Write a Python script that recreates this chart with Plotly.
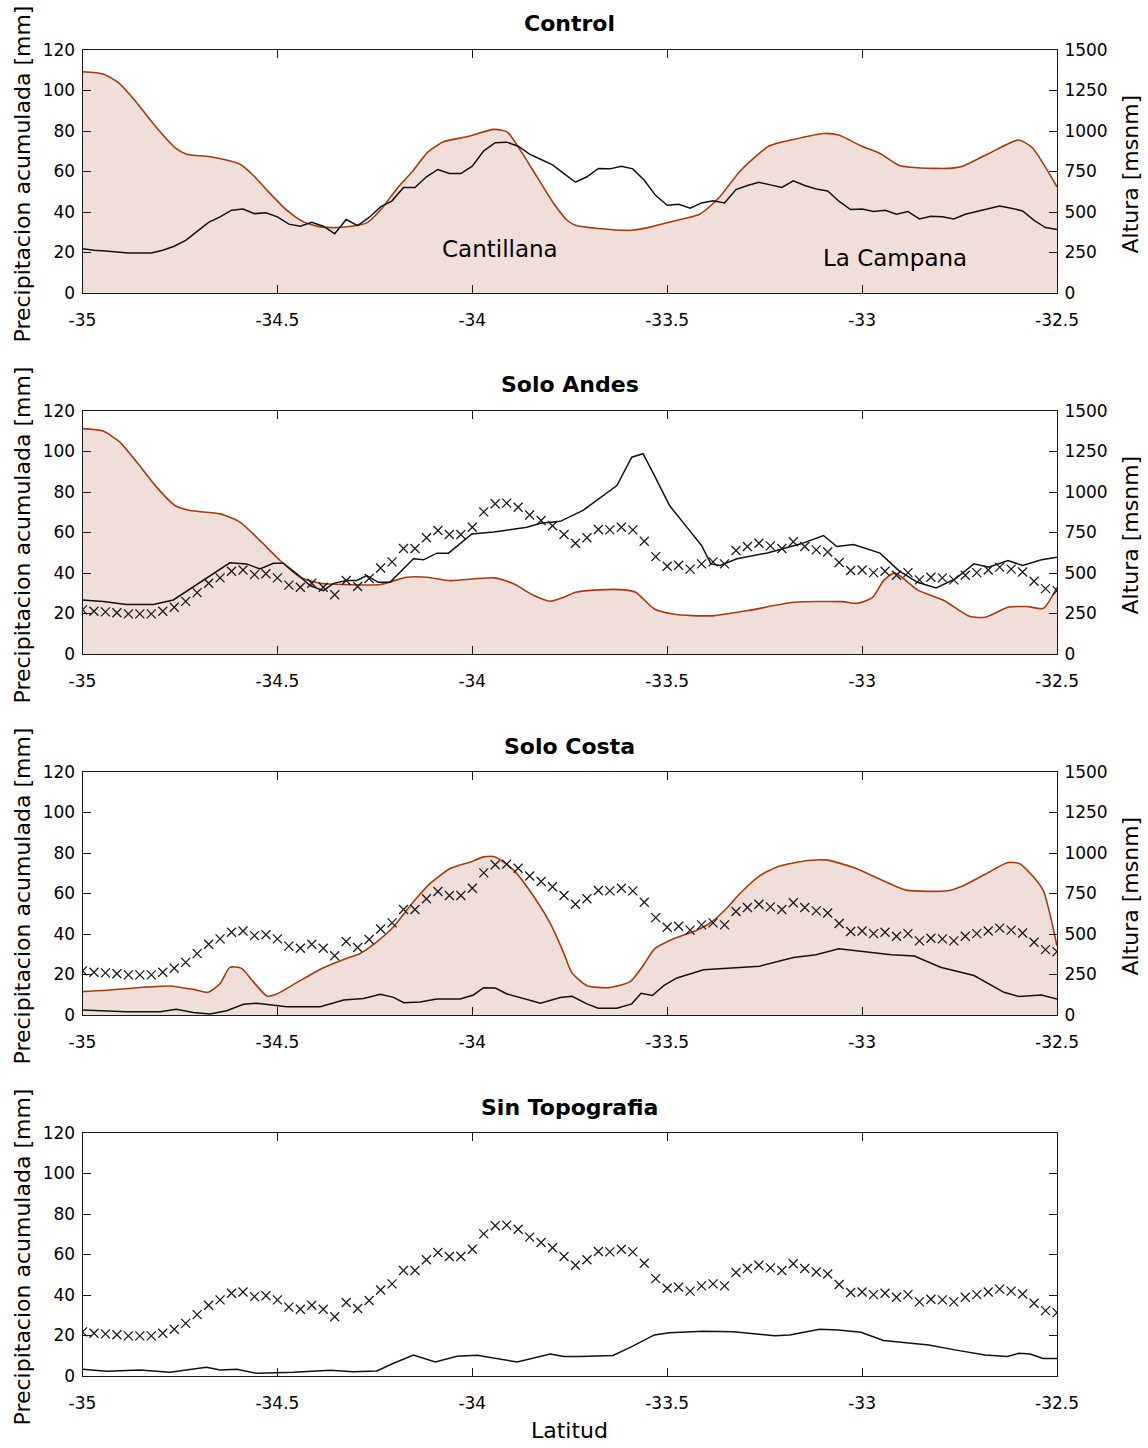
import numpy as np
import plotly.graph_objects as go

# ---------------------------------------------------------------- data
# Control run accumulated precipitation [mm] on the regular latitude grid
LAT_GRID = np.linspace(-35.0, -32.5, 86)
PREC_CONTROL = [
    21.8, 21.1, 20.8, 20.4, 19.8, 19.8, 19.8, 21.1, 23.1, 26.0,
    30.3, 34.9, 37.6, 40.9, 41.5, 39.2, 39.6, 37.6, 34.0, 33.0,
    34.9, 33.0, 29.3, 36.3, 33.3, 37.3, 42.5, 45.5, 52.1, 52.1,
    57.4, 61.0, 59.0, 59.0, 62.6, 70.2, 74.2, 74.5, 72.5, 68.6,
    65.9, 63.3, 59.0, 54.7, 57.4, 61.5, 61.3, 62.6, 61.3, 55.7,
    48.1, 43.3, 43.8, 41.9, 44.5, 45.5, 44.5, 51.1, 53.1, 54.7,
    53.4, 52.1, 55.4, 53.1, 51.4, 50.4, 45.2, 41.2, 41.5, 40.2,
    40.9, 38.9, 40.2, 36.6, 37.9, 37.6, 36.6, 38.9, 40.2, 41.5,
    42.9, 41.9, 40.5, 35.9, 32.3, 31.3,
]

# Topography profiles [msnm]
TOPO_CONTROL_LAT = [
    -35.000, -34.947, -34.908, -34.870, -34.836, -34.801, -34.763, -34.733,
    -34.673, -34.596, -34.562, -34.527, -34.476, -34.433, -34.390, -34.348,
    -34.305, -34.271, -34.236, -34.193, -34.151, -34.116, -34.074, -34.014,
    -33.945, -33.911, -33.877, -33.834, -33.791, -33.757, -33.735, -33.677,
    -33.591, -33.542, -33.485, -33.417, -33.369, -33.311, -33.239, -33.176,
    -33.099, -33.060, -33.002, -32.954, -32.906, -32.858, -32.781, -32.742,
    -32.675, -32.599, -32.564, -32.500,
]
TOPO_CONTROL = [
    1366, 1352, 1298, 1201, 1098, 995, 898, 857,
    841, 795, 727, 635, 511, 439, 408, 404,
    414, 433, 511, 645, 758, 865, 933, 964,
    1010, 995, 882, 717, 552, 449, 418, 398,
    387, 408, 443, 486, 583, 758, 907, 948,
    985, 975, 907, 861, 789, 773, 769, 783,
    861, 944, 898, 655,
]

TOPO_ANDES_LAT = [
    -35.000, -34.947, -34.904, -34.861, -34.810, -34.763, -34.724, -34.647,
    -34.596, -34.545, -34.493, -34.442, -34.390, -34.330, -34.236, -34.168,
    -34.116, -34.057, -33.945, -33.894, -33.842, -33.800, -33.765, -33.735,
    -33.677, -33.610, -33.581, -33.533, -33.485, -33.436, -33.378, -33.292,
    -33.176, -33.051, -33.012, -32.973, -32.945, -32.916, -32.858, -32.790,
    -32.723, -32.684, -32.626, -32.578, -32.535, -32.500,
]
TOPO_ANDES = [
    1391, 1376, 1308, 1185, 1030, 917, 886, 865,
    814, 701, 577, 474, 437, 429, 429, 474,
    474, 453, 470, 433, 361, 326, 350, 381,
    396, 396, 381, 278, 247, 237, 237, 268,
    319, 323, 313, 350, 453, 501, 396, 330,
    231, 227, 288, 293, 282, 412,
]

TOPO_COSTA_LAT = [
    -35.000, -34.930, -34.844, -34.776, -34.716, -34.677, -34.647, -34.622,
    -34.592, -34.562, -34.527, -34.502, -34.442, -34.382, -34.330, -34.288,
    -34.245, -34.202, -34.151, -34.108, -34.057, -34.005, -33.971, -33.941,
    -33.894, -33.842, -33.800, -33.765, -33.745, -33.706, -33.649, -33.595,
    -33.562, -33.533, -33.485, -33.427, -33.388, -33.350, -33.311, -33.263,
    -33.215, -33.137, -33.089, -33.022, -32.954, -32.887, -32.781, -32.742,
    -32.684, -32.626, -32.597, -32.563, -32.535, -32.500,
]
TOPO_COSTA = [
    144, 154, 171, 179, 158, 140, 195, 294,
    288, 206, 117, 129, 212, 292, 343, 380,
    452, 545, 699, 812, 904, 945, 976, 976,
    894, 730, 565, 380, 263, 181, 169, 206,
    304, 407, 469, 520, 571, 653, 756, 859,
    917, 954, 956, 910, 838, 771, 767, 797,
    869, 941, 935, 859, 767, 427,
]

# Accumulated precipitation of the sensitivity runs [mm]
PREC_ANDES_LAT = [
    -35.000, -34.947, -34.887, -34.818, -34.767, -34.716, -34.673, -34.622,
    -34.579, -34.545, -34.510, -34.485, -34.450, -34.416, -34.382, -34.356,
    -34.322, -34.296, -34.271, -34.241, -34.211, -34.176, -34.151, -34.125,
    -34.091, -34.061, -34.031, -34.001, -33.945, -33.902, -33.860, -33.825,
    -33.774, -33.716, -33.629, -33.591, -33.562, -33.533, -33.494, -33.446,
    -33.412, -33.388, -33.364, -33.321, -33.243, -33.157, -33.099, -33.065,
    -33.022, -32.954, -32.906, -32.858, -32.810, -32.761, -32.713, -32.675,
    -32.626, -32.588, -32.540, -32.500,
]
PREC_ANDES = [
    26.7, 25.9, 24.4, 24.4, 26.7, 33.0, 38.7, 45.0,
    44.5, 42.0, 44.8, 44.8, 39.6, 33.8, 31.3, 34.9,
    36.3, 36.3, 38.7, 35.4, 35.4, 42.0, 47.0, 46.5,
    49.8, 49.8, 54.4, 59.3, 60.2, 61.3, 62.6, 64.6,
    65.5, 70.9, 83.2, 97.2, 98.9, 88.2, 73.3, 61.8,
    53.6, 44.5, 43.7, 47.0, 49.9, 54.4, 58.5, 53.1,
    54.1, 49.8, 41.2, 35.4, 32.6, 37.1, 44.5, 42.8,
    46.2, 43.7, 46.5, 47.8,
]

PREC_COSTA_LAT = [
    -35.000, -34.887, -34.801, -34.759, -34.716, -34.673, -34.630, -34.587,
    -34.553, -34.519, -34.476, -34.390, -34.330, -34.279, -34.236, -34.202,
    -34.176, -34.134, -34.091, -34.031, -33.997, -33.971, -33.941, -33.911,
    -33.877, -33.825, -33.774, -33.744, -33.706, -33.677, -33.629, -33.591,
    -33.567, -33.538, -33.509, -33.475, -33.407, -33.340, -33.263, -33.176,
    -33.118, -33.060, -33.002, -32.925, -32.866, -32.799, -32.713, -32.636,
    -32.597, -32.540, -32.500,
]
PREC_COSTA = [
    2.5, 1.6, 1.6, 2.8, 1.2, 0.5, 2.1, 5.3,
    5.8, 4.9, 4.1, 4.1, 7.4, 8.1, 10.2, 8.7,
    6.1, 6.4, 7.9, 7.9, 9.9, 13.5, 13.3, 10.4,
    8.7, 5.8, 8.6, 9.2, 5.5, 3.3, 3.3, 5.5,
    10.7, 9.6, 14.5, 18.3, 22.3, 23.1, 24.1, 28.4,
    29.8, 32.7, 31.4, 29.8, 29.1, 23.6, 19.5, 11.2,
    9.1, 9.9, 7.9,
]

PREC_SINTOPO_LAT = [
    -35.000, -34.938, -34.853, -34.776, -34.682, -34.647, -34.604, -34.553,
    -34.459, -34.365, -34.305, -34.245, -34.202, -34.151, -34.095, -34.039,
    -33.988, -33.945, -33.885, -33.800, -33.765, -33.723, -33.639, -33.591,
    -33.533, -33.494, -33.408, -33.330, -33.224, -33.186, -33.109, -33.061,
    -33.003, -32.945, -32.829, -32.762, -32.685, -32.627, -32.598, -32.569,
    -32.536, -32.500,
]
PREC_SINTOPO = [
    3.3, 2.3, 3.0, 1.8, 4.3, 3.0, 3.3, 1.3,
    1.8, 2.8, 2.1, 2.5, 6.3, 10.4, 6.9, 9.7,
    10.2, 8.9, 6.9, 10.9, 9.6, 9.6, 10.1, 14.5,
    20.3, 21.4, 22.1, 21.9, 19.9, 20.3, 23.1, 22.7,
    21.6, 17.5, 15.3, 12.9, 10.4, 9.6, 11.2, 10.9,
    8.7, 8.7,
]

X_TICKS = [-35, -34.5, -34, -33.5, -33, -32.5]
X_TICK_TEXT = ["-35", "-34.5", "-34", "-33.5", "-33", "-32.5"]
PREC_TICKS = [0, 20, 40, 60, 80, 100, 120]
ALT_TICKS = [0, 250, 500, 750, 1000, 1250, 1500]

TITLES = ["Control", "Solo Andes", "Solo Costa", "Sin Topografia"]

# ---------------------------------------------------------------- layout
W, H = 1148, 1448
LEFT, RIGHT = 82.5, 1057.0
TOPS = [50, 411, 772, 1133]
PH = 243

FONT = "DejaVu Sans"
TOPO_LINE = "rgb(168,58,12)"
TOPO_FILL = "rgb(240,223,216)"
INK = "#111111"


def px_x(px):
    return px / W


def px_y(py):
    return 1 - py / H


panels = [
    dict(topo=(TOPO_CONTROL_LAT, TOPO_CONTROL), line=(list(LAT_GRID), PREC_CONTROL), marks=False),
    dict(topo=(TOPO_ANDES_LAT, TOPO_ANDES), line=(PREC_ANDES_LAT, PREC_ANDES), marks=True),
    dict(topo=(TOPO_COSTA_LAT, TOPO_COSTA), line=(PREC_COSTA_LAT, PREC_COSTA), marks=True),
    dict(topo=None, line=(PREC_SINTOPO_LAT, PREC_SINTOPO), marks=True),
]

fig = go.Figure()
layout = {}
annotations = []

axis_common = dict(
    showline=True, linecolor="#1a1a1a", linewidth=1,
    ticks="inside", ticklen=8, tickwidth=1, tickcolor="#1a1a1a",
    showgrid=False, zeroline=False, automargin=False,
    tickfont=dict(family=FONT, size=17, color="black"),
)

ycount = 0
for i, p in enumerate(panels):
    k = i + 1
    xname = "x" if k == 1 else f"x{k}"
    top = TOPS[i]
    dom_y = [px_y(top + PH), px_y(top)]

    if p["topo"] is not None:
        # base axis: altitude on the right; precipitation overlays it on the left
        ycount += 1
        alt_id = ycount
        ycount += 1
        prec_id = ycount
        alt_name = "y" if alt_id == 1 else f"y{alt_id}"
        prec_name = f"y{prec_id}"
        layout[f"yaxis{'' if alt_id == 1 else alt_id}"] = dict(
            axis_common, domain=dom_y, anchor=xname, side="right",
            range=[0, 1500], tickvals=ALT_TICKS, ticklabelstandoff=3,
        )
        layout[f"yaxis{prec_id}"] = dict(
            axis_common, overlaying=alt_name, anchor=xname, side="left",
            range=[0, 120], tickvals=PREC_TICKS, ticklabelstandoff=3,
        )
        tlat, tval = p["topo"]
        fig.add_trace(go.Scatter(
            x=tlat, y=tval, xaxis=xname, yaxis=alt_name, mode="lines",
            line=dict(color=TOPO_LINE, width=1.6, shape="spline", smoothing=0.6),
            fill="tozeroy", fillcolor=TOPO_FILL, showlegend=False, hoverinfo="skip",
        ))
        base_y = alt_name
    else:
        ycount += 1
        prec_id = ycount
        prec_name = f"y{prec_id}"
        layout[f"yaxis{prec_id}"] = dict(
            axis_common, domain=dom_y, anchor=xname, side="left", mirror="ticks",
            range=[0, 120], tickvals=PREC_TICKS, ticklabelstandoff=3,
        )
        base_y = prec_name

    layout[f"xaxis{'' if k == 1 else k}"] = dict(
        axis_common, domain=[px_x(LEFT), px_x(RIGHT)], anchor=base_y,
        range=[-35, -32.5], tickvals=X_TICKS, ticktext=X_TICK_TEXT,
        mirror="ticks", ticklabelstandoff=12,
    )

    llat, lval = p["line"]
    fig.add_trace(go.Scatter(
        x=llat, y=lval, xaxis=xname, yaxis=prec_name, mode="lines",
        line=dict(color=INK, width=1.5), showlegend=False,
    ))
    if p["marks"]:
        fig.add_trace(go.Scatter(
            x=list(LAT_GRID), y=PREC_CONTROL, xaxis=xname, yaxis=prec_name,
            mode="markers", showlegend=False,
            marker=dict(symbol="x-thin-open", size=9, color="#1a1a1a",
                        line=dict(width=1.3, color="#1a1a1a")),
        ))

    # panel title
    annotations.append(dict(
        text=f"<b>{TITLES[i]}</b>", x=px_x((LEFT + RIGHT) / 2), y=px_y(top - 26),
        xref="paper", yref="paper", showarrow=False, xanchor="center", yanchor="middle",
        font=dict(family=FONT, size=22, color="black"),
    ))
    # left axis title
    annotations.append(dict(
        text="Precipitacion acumulada [mm]", x=px_x(22), y=px_y(top + PH / 2 + 3),
        xref="paper", yref="paper", showarrow=False, textangle=-90,
        xanchor="center", yanchor="middle",
        font=dict(family=FONT, size=22, color="black"),
    ))
    if p["topo"] is not None:
        annotations.append(dict(
            text="Altura [msnm]", x=px_x(1130), y=px_y(top + PH / 2 + 3),
            xref="paper", yref="paper", showarrow=False, textangle=-90,
            xanchor="center", yanchor="middle",
            font=dict(family=FONT, size=22, color="black"),
        ))

# place names on the control panel
annotations.append(dict(
    text="Cantillana", x=-33.93, y=21.5, xref="x", yref="y2", showarrow=False,
    font=dict(family=FONT, size=23, color="black"),
))
annotations.append(dict(
    text="La Campana", x=-32.915, y=17.2, xref="x", yref="y2", showarrow=False,
    font=dict(family=FONT, size=23, color="black"),
))
annotations.append(dict(
    text="Latitud", x=px_x(569), y=px_y(1430), xref="paper", yref="paper",
    showarrow=False, xanchor="center", yanchor="middle",
    font=dict(family=FONT, size=22, color="black"),
))

fig.update_layout(
    width=W, height=H,
    margin=dict(l=0, r=0, t=0, b=0, autoexpand=False),
    paper_bgcolor="white", plot_bgcolor="white",
    showlegend=False,
    annotations=annotations,
    **layout,
)

fig.write_html("out.html")
